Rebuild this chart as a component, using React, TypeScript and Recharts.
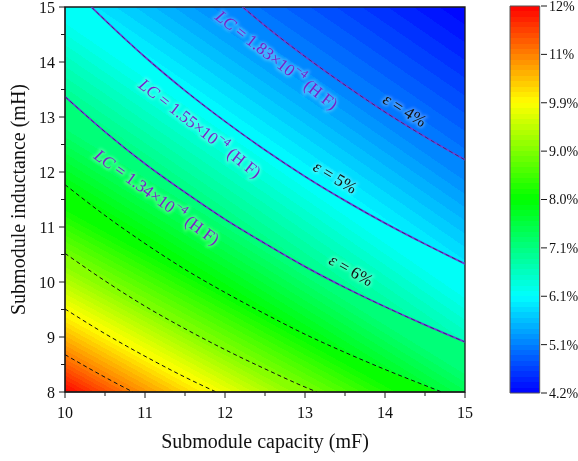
import React from "react";
import {
  ComposedChart,
  Area,
  Line,
  XAxis,
  YAxis,
  CartesianGrid,
  ReferenceDot,
  ReferenceArea,
  BarChart,
  Bar,
} from "recharts";

type Pt = [number, number];

// contour lines, [capacity (mF), inductance (mH)]
// each one sits on a colorbar tick level (5.1% ... 11%)
const contour51: Pt[] = [[12.22, 15], [12.5, 14.66], [13, 14.1], [13.5, 13.58], [14, 13.09], [14.5, 12.64], [15, 12.22]];
const contour61: Pt[] = [[10.33, 15], [10.5, 14.76], [11, 14.09], [11.5, 13.48], [12, 12.92], [12.5, 12.4], [13, 11.92], [13.5, 11.48], [14, 11.07], [14.5, 10.69], [15, 10.33]];
const contour71: Pt[] = [[10, 13.37], [10.5, 12.73], [11, 12.15], [11.5, 11.63], [12, 11.14], [12.5, 10.7], [13, 10.28], [13.5, 9.9], [14, 9.55], [14.5, 9.22], [15, 8.91]];
const contour80: Pt[] = [[10, 11.77], [10.5, 11.21], [11, 10.7], [11.5, 10.23], [12, 9.81], [12.5, 9.42], [13, 9.05], [13.5, 8.72], [14, 8.41], [14.5, 8.12], [14.71, 8]];
const contour90: Pt[] = [[10, 10.52], [10.5, 10.02], [11, 9.56], [11.5, 9.15], [12, 8.77], [12.5, 8.42], [13, 8.09], [13.15, 8]];
const contour99: Pt[] = [[10, 9.51], [10.5, 9.06], [11, 8.65], [11.5, 8.27], [11.89, 8]];
const contour110: Pt[] = [[10, 8.68], [10.3, 8.43], [10.6, 8.19], [10.85, 8]];

const contours = [contour51, contour61, contour71, contour80, contour90, contour99, contour110];

const colorbarLabels = ["4.2%", "5.1%", "6.1%", "7.1%", "8.0%", "9.0%", "9.9%", "11%", "12%"];
const capacityTicks = [10, 10.5, 11, 11.5, 12, 12.5, 13, 13.5, 14, 14.5, 15];
const inductanceTicks = [8, 8.5, 9, 9.5, 10, 10.5, 11, 11.5, 12, 12.5, 13, 13.5, 14, 14.5, 15];
const lcValues = ["1.83", "1.55", "1.34"];
const epsValues = ["4%", "5%", "6%"];

const FONT = '"Liberation Serif", "Times New Roman", serif';
const X_DOMAIN: [number, number] = [10, 15];
const Y_DOMAIN: [number, number] = [8, 15];
const PLOT = { left: 65, top: 7, width: 400, height: 385 };
const STEPS = 9;
const LINE_PURPLE = "#6a3fd6";
const TEXT_PURPLE = "#7a20c8";

// rainbow colour map, t = position on the colorbar in tick steps (0..8)
const rainbow = (t: number) => {
  const s = Math.max(0, Math.min(8, t)) / 2;
  let r = 0, g = 0, b = 0;
  if (s < 1) { g = 255 * s; b = 255; }
  else if (s < 2) { g = 255; b = 255 * (2 - s); }
  else if (s < 3) { r = 255 * (s - 2); g = 255; }
  else { r = 255; g = 255 * (4 - s); }
  return `rgb(${Math.round(r)},${Math.round(g)},${Math.round(b)})`;
};

const steppedStops = (t0: number, t1: number, n: number) => {
  const out: React.ReactNode[] = [];
  for (let j = 0; j < n; j++) {
    const c = rainbow(t0 + ((t1 - t0) * (j + 0.5)) / n);
    out.push(<stop key={j + "a"} offset={j / n} stopColor={c} />);
    out.push(<stop key={j + "b"} offset={(j + 1) / n} stopColor={c} />);
  }
  return out;
};

// pixel helpers, only used to orient the fill gradients
const toPx = ([c, l]: Pt): Pt => [
  PLOT.left + ((c - X_DOMAIN[0]) / (X_DOMAIN[1] - X_DOMAIN[0])) * PLOT.width,
  PLOT.top + ((Y_DOMAIN[1] - l) / (Y_DOMAIN[1] - Y_DOMAIN[0])) * PLOT.height,
];

const normalHigh = (line: Pt[]): Pt => {
  const a = toPx(line[0]);
  const b = toPx(line[line.length - 1]);
  const ex = b[0] - a[0], ey = b[1] - a[1];
  const len = Math.hypot(ex, ey);
  return [-ey / len, ex / len];
};

const rayHit = (a: Pt, n: Pt, line: Pt[]): Pt => {
  const poly = line.map(toPx);
  const seg = (p: Pt, q: Pt, bounded: boolean) => {
    const ex = q[0] - p[0], ey = q[1] - p[1];
    const den = n[0] * ey - n[1] * ex;
    if (Math.abs(den) < 1e-9) return null;
    const wx = p[0] - a[0], wy = p[1] - a[1];
    const s = (wx * ey - wy * ex) / den;
    const u = (wx * n[1] - wy * n[0]) / den;
    if (s <= 0) return null;
    if (bounded && (u < -0.001 || u > 1.001)) return null;
    return s;
  };
  let best = Infinity;
  for (let i = 0; i < poly.length - 1; i++) {
    const s = seg(poly[i], poly[i + 1], true);
    if (s !== null && s < best) best = s;
  }
  if (!isFinite(best)) {
    const s = seg(poly[0], poly[poly.length - 1], false);
    best = s === null ? 40 : s;
  }
  return [a[0] + best * n[0], a[1] + best * n[1]];
};

const bandVectors = (): { a: Pt; b: Pt }[] => {
  const out: { a: Pt; b: Pt }[] = [];
  const top = toPx([X_DOMAIN[1], Y_DOMAIN[1]]);
  out.push({ a: top, b: rayHit(top, normalHigh(contours[0]), contours[0]) });
  for (let k = 1; k <= 6; k++) {
    const s = contours[k - 1];
    const a = toPx(s[Math.floor(s.length / 2)]);
    out.push({ a, b: rayHit(a, normalHigh(s), contours[k]) });
  }
  const corner = toPx([X_DOMAIN[0], Y_DOMAIN[0]]);
  const n7 = normalHigh(contours[6]);
  out.push({ a: rayHit(corner, [-n7[0], -n7[1]], contours[6]), b: corner });
  return out;
};

const areaData = (line: Pt[]) => {
  const rows = line.map(([c, l]) => ({ c, r: [l, Y_DOMAIN[1]] }));
  const last = line[line.length - 1];
  if (last[0] < X_DOMAIN[1]) rows.push({ c: X_DOMAIN[1], r: [Y_DOMAIN[0], Y_DOMAIN[1]] });
  return rows;
};
const lineData = (line: Pt[]) => line.map(([c, l]) => ({ c, l }));

const XTick = (props: any) => {
  const { x, y, payload } = props;
  const v = payload.value as number;
  const major = Number.isInteger(v);
  return (
    <g>
      <line x1={x} x2={x} y1={y} y2={y + (major ? 6 : 4)} stroke="#1a1a1a" />
      {major && (
        <text x={x} y={y + 26} textAnchor="middle" fontSize={16} fontFamily={FONT} fill="#111">
          {v}
        </text>
      )}
    </g>
  );
};

const YTick = (props: any) => {
  const { x, y, payload } = props;
  const v = payload.value as number;
  const major = Number.isInteger(v);
  return (
    <g>
      <line x1={x} x2={x - (major ? 6 : 4)} y1={y} y2={y} stroke="#1a1a1a" />
      {major && (
        <text x={x - 10} y={y} dy="0.35em" textAnchor="end" fontSize={16} fontFamily={FONT} fill="#111">
          {v}
        </text>
      )}
    </g>
  );
};

const XTitle = (props: any) => {
  const vb = props.viewBox;
  return (
    <text x={vb.x + vb.width / 2} y={vb.y + 56} textAnchor="middle" fontSize={20} fontFamily={FONT} fill="#111">
      Submodule capacity (mF)
    </text>
  );
};

const YTitle = (props: any) => {
  const vb = props.viewBox;
  const cy = vb.y + vb.height / 2;
  return (
    <text x={25} y={cy} transform={`rotate(-90 25 ${cy})`} textAnchor="middle" fontSize={20} fontFamily={FONT} fill="#111">
      Submodule inductance (mH)
    </text>
  );
};

const rotatedLabel = (angle: number, color: string, body: React.ReactNode) => (props: any) => {
  const vb = props.viewBox;
  const cx = vb.x + (vb.width || 0) / 2;
  const cy = vb.y + (vb.height || 0) / 2;
  const common = {
    x: cx,
    y: cy,
    textAnchor: "middle" as const,
    dominantBaseline: "central" as const,
    fontFamily: FONT,
    fontSize: 17,
    transform: `rotate(${angle} ${cx} ${cy})`,
  };
  return (
    <g>
      <text {...common} fill="#fff" stroke="#fff" strokeWidth={3} opacity={0.28} filter="url(#halo)">
        {body}
      </text>
      <text {...common} fill={color}>
        {body}
      </text>
    </g>
  );
};

const lcBody = (v: string) => (
  <>
    <tspan fontStyle="italic">LC</tspan>
    <tspan>{" = " + v + "×10"}</tspan>
    <tspan dy={-6} fontSize={12}>−4</tspan>
    <tspan dy={6}>{" (H F)"}</tspan>
  </>
);
const epsBody = (v: string) => (
  <>
    <tspan fontStyle="italic">ε</tspan>
    <tspan>{" = " + v}</tspan>
  </>
);

// label placement (capacity, inductance, rotation)
const lcPlacement: [number, number, number][] = [[12.65, 14.04, 38], [11.69, 12.8, 38], [11.15, 11.55, 36]];
const epsPlacement: [number, number, number][] = [[14.25, 13.13, 32], [13.38, 11.91, 31], [13.58, 10.22, 30]];

const colorbarData = [{ name: "eps", span: [0, colorbarLabels.length - 1] }];
const colorbarTicks = colorbarLabels.map((_, i) => i);

const App = () => {
  const vectors = bandVectors();
  return (
    <div style={{ position: "relative", width: 578, height: 461 }}>
      <div style={{ position: "fixed", left: 0, top: 0, width: 578, height: 461 }}>
        <ComposedChart width={578} height={461} margin={{ top: 7, right: 113, bottom: 0, left: 0 }}>
          <defs>
            {vectors.map((v, k) => (
              <linearGradient
                key={k}
                id={`band${k}`}
                gradientUnits="userSpaceOnUse"
                x1={v.a[0]}
                y1={v.a[1]}
                x2={v.b[0]}
                y2={v.b[1]}
              >
                {steppedStops(k, k + 1, STEPS)}
              </linearGradient>
            ))}
            <filter id="halo" x="-20%" y="-60%" width="140%" height="220%">
              <feGaussianBlur stdDeviation={1.8} />
            </filter>
          </defs>
          <CartesianGrid horizontal={false} vertical={false} fill="url(#band7)" fillOpacity={1} />
          <XAxis
            type="number"
            dataKey="c"
            domain={X_DOMAIN}
            ticks={capacityTicks}
            interval={0}
            allowDataOverflow
            tickLine={false}
            tickSize={0}
            tickMargin={0}
            axisLine={{ stroke: "#1a1a1a" }}
            tick={<XTick />}
            height={69}
            label={<XTitle />}
          />
          <YAxis
            type="number"
            domain={Y_DOMAIN}
            ticks={inductanceTicks}
            interval={0}
            allowDataOverflow
            tickLine={false}
            tickSize={0}
            tickMargin={0}
            axisLine={{ stroke: "#1a1a1a" }}
            tick={<YTick />}
            width={65}
            label={<YTitle />}
          />
          {contours
            .map((line, i) => (
              <Area
                key={"fill" + i}
                data={areaData(line)}
                dataKey="r"
                type="monotone"
                stroke="none"
                fill={`url(#band${i})`}
                fillOpacity={1}
                dot={false}
                activeDot={false}
                isAnimationActive={false}
              />
            ))
            .reverse()}
          {contours.slice(0, 3).map((line, i) => (
            <Line
              key={"lc" + i}
              data={lineData(line)}
              dataKey="l"
              type="monotone"
              stroke={LINE_PURPLE}
              strokeWidth={1.8}
              dot={false}
              activeDot={false}
              isAnimationActive={false}
            />
          ))}
          {contours.map((line, i) => (
            <Line
              key={"dash" + i}
              data={lineData(line)}
              dataKey="l"
              type="monotone"
              stroke="#111"
              strokeWidth={i < 3 ? 0.8 : 1}
              strokeOpacity={i < 3 ? 0.6 : 1}
              strokeDasharray="4 3"
              dot={false}
              activeDot={false}
              isAnimationActive={false}
            />
          ))}
          {lcPlacement.map(([c, l, a], i) => (
            <ReferenceDot
              key={"lcl" + i}
              x={c}
              y={l}
              r={0}
              fill="none"
              stroke="none"
              label={rotatedLabel(a, TEXT_PURPLE, lcBody(lcValues[i]))}
            />
          ))}
          {epsPlacement.map(([c, l, a], i) => (
            <ReferenceDot
              key={"epl" + i}
              x={c}
              y={l}
              r={0}
              fill="none"
              stroke="none"
              label={rotatedLabel(a, "#111", epsBody(epsValues[i]))}
            />
          ))}
          <ReferenceArea x1={X_DOMAIN[0]} x2={X_DOMAIN[1]} y1={Y_DOMAIN[0]} y2={Y_DOMAIN[1]} fill="none" stroke="#1a1a1a" strokeWidth={1.3} />
        </ComposedChart>
      </div>
      <div style={{ position: "fixed", left: 490, top: 0, width: 88, height: 461 }}>
        <BarChart width={88} height={461} data={colorbarData} margin={{ top: 6, right: 0, bottom: 68, left: 18 }}>
          <defs>
            <linearGradient id="cbGrad" x1="0" y1="1" x2="0" y2="0">
              {steppedStops(0, colorbarLabels.length - 1, STEPS * (colorbarLabels.length - 1))}
            </linearGradient>
          </defs>
          <XAxis dataKey="name" hide />
          <YAxis
            orientation="right"
            type="number"
            domain={[0, colorbarLabels.length - 1]}
            ticks={colorbarTicks}
            interval={0}
            width={37}
            tickFormatter={(v: number) => colorbarLabels[v]}
            tick={{ fontSize: 14, fill: "#111", fontFamily: FONT }}
            axisLine={false}
            tickLine={{ stroke: "#1a1a1a" }}
            tickSize={6}
            tickMargin={2}
          />
          <Bar dataKey="span" fill="url(#cbGrad)" stroke="#555" barSize={33} isAnimationActive={false} />
        </BarChart>
      </div>
    </div>
  );
};

export default App;
